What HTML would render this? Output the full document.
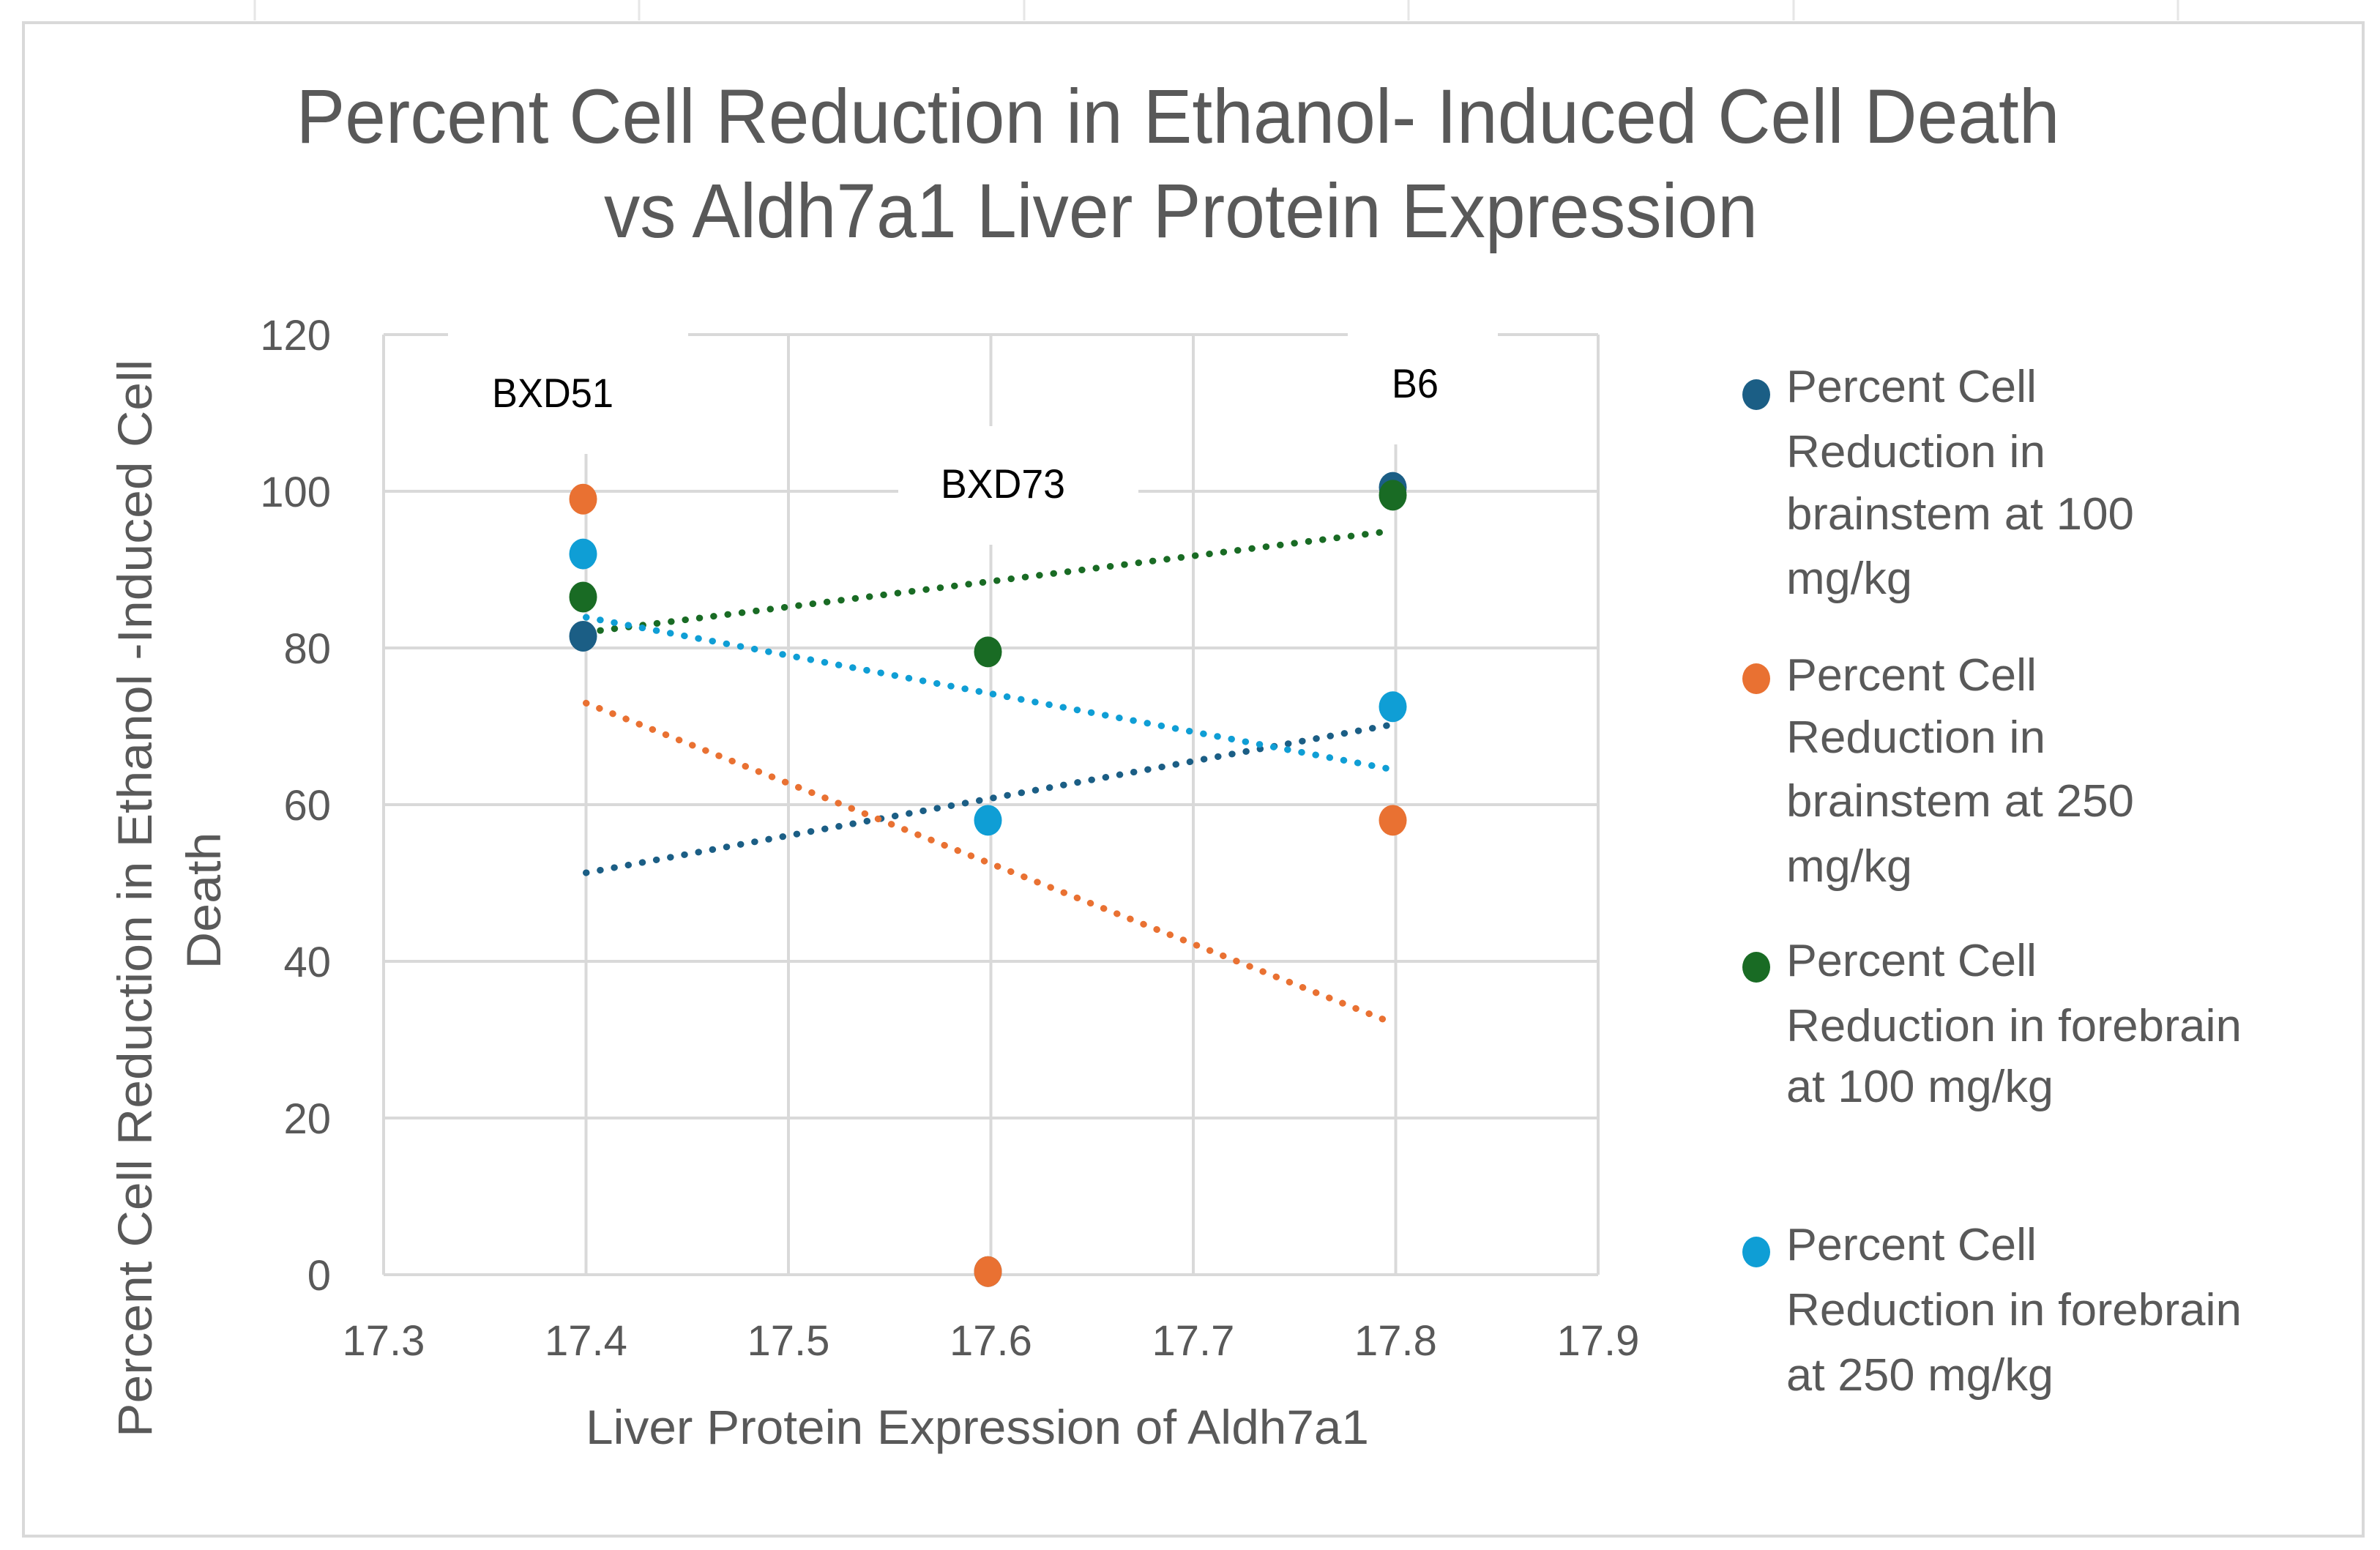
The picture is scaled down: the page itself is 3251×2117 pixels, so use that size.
<!DOCTYPE html>
<html><head><meta charset="utf-8">
<style>
html,body{margin:0;padding:0;background:#fff;}
svg{display:block;font-family:"Liberation Sans",sans-serif;}
</style></head>
<body>
<svg id="chart" width="3251" height="2117" viewBox="0 0 3251 2117">
  <g stroke="#e6e6e6" stroke-width="3">
    <line x1="348" y1="0" x2="348" y2="28"/><line x1="873" y1="0" x2="873" y2="28"/>
    <line x1="1399" y1="0" x2="1399" y2="28"/><line x1="1924" y1="0" x2="1924" y2="28"/>
    <line x1="2450" y1="0" x2="2450" y2="28"/><line x1="2975" y1="0" x2="2975" y2="28"/>
  </g>
  <rect x="32" y="31" width="3196" height="2067" fill="#fff" stroke="#d9d9d9" stroke-width="4"/>
  <g fill="#595959" font-size="105" text-anchor="middle">
    <text x="1609" y="195" textLength="2409" lengthAdjust="spacingAndGlyphs">Percent Cell Reduction in Ethanol- Induced Cell Death</text>
    <text x="1613" y="324" textLength="1576" lengthAdjust="spacingAndGlyphs">vs Aldh7a1 Liver Protein Expression</text>
  </g>
  <g id="grid"></g>
  <g id="labelboxes"></g>
  <g id="trends"></g>
  <g id="points"></g>
  <g id="yticks" fill="#595959" font-size="58" text-anchor="end"></g>
  <g id="xticks" fill="#595959" font-size="58" text-anchor="middle"></g>
  <g id="strainlabels" fill="#000" font-size="56"></g>
  <text x="1335" y="1972" fill="#595959" font-size="66" text-anchor="middle" textLength="1070" lengthAdjust="spacingAndGlyphs">Liver Protein Expression of Aldh7a1</text>
  <g fill="#595959" font-size="66" text-anchor="middle">
    <text transform="translate(207,1227) rotate(-90)" textLength="1472" lengthAdjust="spacingAndGlyphs">Percent Cell Reduction in Ethanol  -Induced Cell</text>
    <text transform="translate(301,1230) rotate(-90)" textLength="187" lengthAdjust="spacingAndGlyphs">Death</text>
  </g>
  <g id="legend" fill="#595959" font-size="62"></g>
</svg>
<script>
const xValues = [17.4, 17.6, 17.8];
const seriesNames = ["Percent Cell Reduction in brainstem at 100 mg/kg","Percent Cell Reduction in brainstem at 250 mg/kg","Percent Cell Reduction in forebrain at 100 mg/kg","Percent Cell Reduction in forebrain at 250 mg/kg"];
const brainstem100 = [81.5, 0.4, 100.5];
const brainstem250 = [99, 0.4, 58];
const forebrain100 = [86.5, 79.5, 99.5];
const forebrain250 = [92, 58, 72.5];
const xTicks = [17.3, 17.4, 17.5, 17.6, 17.7, 17.8, 17.9];
const xTickLabels = ["17.3","17.4","17.5","17.6","17.7","17.8","17.9"];
const yTicks = [0, 20, 40, 60, 80, 100, 120];
const yTickLabels = ["0","20","40","60","80","100","120"];
const strainNames = ["BXD51","BXD73","B6"];

const NS = "http://www.w3.org/2000/svg";
const X0 = 524, X1 = 2183, Y0 = 1741, Y1 = 457;
const xMin = 17.3, xMax = 17.9, yMin = 0, yMax = 120;
function xs(v){ return X0 + (v - xMin) / (xMax - xMin) * (X1 - X0); }
function ys(v){ return Y0 - (v - yMin) / (yMax - yMin) * (Y0 - Y1); }
function mk(tag, attrs, parent){ const e = document.createElementNS(NS, tag); for (const k in attrs) e.setAttribute(k, attrs[k]); parent.appendChild(e); return e; }

const colors = ["#1b5e85", "#e97132", "#196b24", "#0f9ed5"];
const series = [brainstem100, brainstem250, forebrain100, forebrain250];

const grid = document.getElementById('grid');
yTicks.forEach(t => {
  const l = mk('line', {x1: X0, x2: X1, y1: ys(t), y2: ys(t), stroke: '#d9d9d9', 'stroke-width': 4}, grid);
  
  
});
xTicks.forEach(t => {
  const l = mk('line', {x1: xs(t), x2: xs(t), y1: Y1, y2: Y0, stroke: '#d9d9d9', 'stroke-width': 4}, grid);
  
  
});

const boxes = document.getElementById('labelboxes');
const strainBoxes = [[612, 440, 328, 180], [1227, 582, 328, 162], [1841, 440, 205, 167]];
strainBoxes.forEach(b => {
  const r = mk('rect', {x: b[0], y: b[1], width: b[2], height: b[3], fill: '#fff'}, boxes);
  
  
});

const sl = document.getElementById('strainlabels');
const strainPos = [[672, 556, 166], [1285, 680, 170], [1901, 543, 64]];
strainNames.forEach((n, i) => {
  const t = mk('text', {x: strainPos[i][0], y: strainPos[i][1], textLength: strainPos[i][2], lengthAdjust: 'spacingAndGlyphs'}, sl);
  t.textContent = n;
  
  
});

const trends = document.getElementById('trends');
series.forEach((s, i) => {
  const n = xValues.length;
  const mx = xValues.reduce((a, b) => a + b, 0) / n;
  const my = s.reduce((a, b) => a + b, 0) / n;
  let sxy = 0, sxx = 0;
  for (let k = 0; k < n; k++){ sxy += (xValues[k] - mx) * (s[k] - my); sxx += (xValues[k] - mx) ** 2; }
  const m = sxy / sxx, b = my - m * mx;
  const xa = xValues[0], xb = xValues[n - 1] - 0.003;
  const l = mk('line', {x1: xs(xa), y1: ys(m * xa + b), x2: xs(xb), y2: ys(m * xb + b), stroke: colors[i], 'stroke-width': 9, 'stroke-linecap': 'round', 'stroke-dasharray': '0.5 19'}, trends);
  
  
});

const pts = document.getElementById('points');
series.forEach((s, i) => {
  s.forEach((v, k) => {
    const c = mk('ellipse', {cx: xs(xValues[k]) - 4, cy: ys(v), rx: 19, ry: 21, fill: colors[i]}, pts);
    
    
  });
});

const yt = document.getElementById('yticks');
yTicks.forEach((t, i) => {
  const e = mk('text', {x: 452, y: ys(t) + 21}, yt);
  e.textContent = yTickLabels[i];
  
  
});
const xt = document.getElementById('xticks');
xTicks.forEach((t, i) => {
  const e = mk('text', {x: xs(t), y: 1851}, xt);
  e.textContent = xTickLabels[i];
  
  
});

const lg = document.getElementById('legend');
const legendLines = [
  [["Percent Cell",342],["Reduction in",354],["brainstem at 100",475],["mg/kg",172]],
  [["Percent Cell",342],["Reduction in",354],["brainstem at 250",475],["mg/kg",172]],
  [["Percent Cell",342],["Reduction in forebrain",622],["at 100 mg/kg",365]],
  [["Percent Cell",342],["Reduction in forebrain",622],["at 250 mg/kg",365]]
];
const legendBase = [[549,638,723,811],[943,1028,1115,1204],[1333,1422,1505],[1721,1810,1899]];
const markerY = [539, 927, 1321, 1710];
legendLines.forEach((lines, i) => {
  const g = mk('g', {}, lg);
  
  
  const m = mk('ellipse', {cx: 2399, cy: markerY[i], rx: 19, ry: 21, fill: colors[i]}, g);
  
  
  lines.forEach((ln, j) => {
    const t = mk('text', {x: 2440, y: legendBase[i][j], textLength: ln[1], lengthAdjust: 'spacingAndGlyphs'}, g);
    t.textContent = ln[0];
    
    
  });
});
</script>
</body></html>
